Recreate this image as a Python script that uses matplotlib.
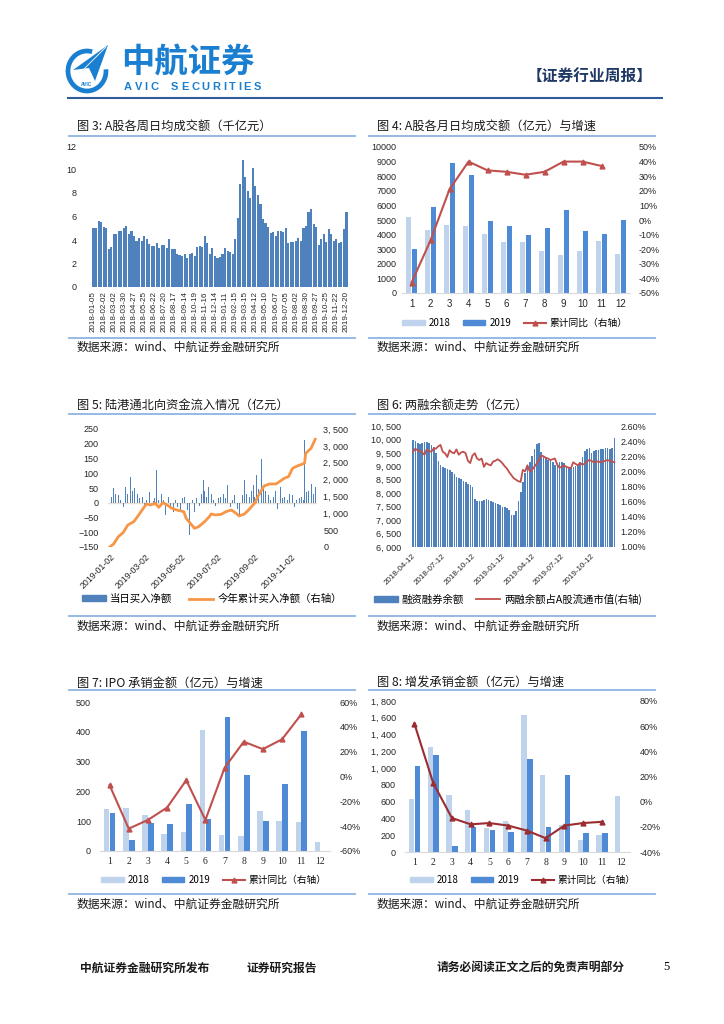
import numpy as np
import pandas as pd
import matplotlib
matplotlib.use("Agg")
import matplotlib.pyplot as plt
from matplotlib.patches import Arc, Polygon, Patch
from matplotlib.lines import Line2D
from matplotlib.ticker import FuncFormatter

plt.rcParams['font.family'] = ['Liberation Sans', 'Noto Sans CJK SC']
CJK = ['Noto Sans CJK SC', 'DejaVu Sans']

# ---------------- 数据 ----------------
# 图3 A股各周日均成交额(千亿元)
week_labels = ['2018-01-05', '2018-02-02', '2018-03-02', '2018-03-30', '2018-04-27', '2018-05-25',
               '2018-06-22', '2018-07-20', '2018-08-17', '2018-09-14', '2018-10-19', '2018-11-16',
               '2018-12-14', '2019-01-11', '2019-02-15', '2019-03-15', '2019-04-12', '2019-05-10',
               '2019-06-07', '2019-07-05', '2019-08-02', '2019-08-30', '2019-09-27', '2019-10-25',
               '2019-11-22', '2019-12-20']
week_turnover = [5.0, 5.05, 5.6, 5.5, 5.1, 5.0, 3.2, 3.4, 4.5, 4.5, 4.8, 4.75,
                 5.05, 5.15, 4.55, 4.75, 4.3, 3.9, 4.2, 3.9, 4.3, 4.1, 3.7, 3.45,
                 3.45, 3.75, 3.35, 3.55, 3.6, 3.35, 4.05, 3.25, 3.2, 2.85, 2.7, 2.6,
                 2.85, 2.5, 2.8, 2.9, 2.6, 3.4, 3.5, 3.4, 4.3, 3.75, 2.8,
                 3.35, 2.6, 2.45, 2.55, 2.8, 3.35, 3.1, 3.0, 2.85,
                 4.05, 5.85, 8.75, 10.8, 9.4, 8.2, 7.55, 10.1, 8.6, 7.8, 7.1, 5.8,
                 5.45, 5.1, 4.6, 4.65, 4.3, 4.75, 4.8, 4.65, 5.0, 3.75, 3.8, 3.85,
                 3.9, 4.2, 3.9, 5.0, 5.2, 6.4, 6.6, 5.4, 5.1, 3.6, 4.1, 4.5,
                 3.8, 4.9, 4.55, 3.9, 4.1, 3.75, 3.85, 4.9, 6.4]

# 图4 A股各月日均成交额(亿元)
months = list(range(1, 13))
turnover_2018 = [5200, 4300, 4650, 4580, 4050, 3480, 3520, 2850, 2600, 2900, 3550, 2650]
turnover_2019 = [2980, 5900, 8880, 8050, 4900, 4600, 3950, 4480, 5680, 4250, 4050, 5000]
turnover_yoy = [-43, -14, 21, 40, 34, 33, 31, 33, 40, 40, 37]

# 图5 陆港通北向资金(亿元)
north_daily = [15, 20, 49, 30, 82, 25, 10, 35, -15, 54, 30,
               20, 86, 40, 49, 25, 30, 15, 37, 20, -8,
               10, 25, 37, -10, 5, 15, 111, 10, -110, 30, 10, -42, 15,
               20, -20, 43, -30, 10, -15, 5, -25, 15, 20, 10,
               -25, -110, -40, 10, -30, 15, 20, -10, 30, 77,
               40, 20, 54, 15, 30, 10, -10, 25, 15, 20,
               10, 30, 15, 60, 20, -15, 10, 25, -64, -20,
               -42, -20, 25, 77, 30, 111, 20, 40, 60, 20,
               94, 45, 30, 147, 60, 40, 15, 25, 10, -10,
               20, 40, -20, 30, 54, 15, 20, 45, 10, 30,
               40, 25, -15, 10, 30, 15, 20, 10, 212, 35,
               40, 25, 65, 30, 55]
north_cum_dates = ['2019-01-02', '2019-01-08', '2019-01-16', '2019-01-24', '2019-02-01', '2019-02-11',
                   '2019-02-18', '2019-02-25', '2019-03-04', '2019-03-11', '2019-03-19', '2019-03-25',
                   '2019-04-01', '2019-04-08', '2019-04-16', '2019-04-24', '2019-05-06', '2019-05-10',
                   '2019-05-17', '2019-05-24', '2019-05-31', '2019-06-10', '2019-06-18', '2019-06-21',
                   '2019-06-28', '2019-07-08', '2019-07-16', '2019-07-25', '2019-08-02', '2019-08-07',
                   '2019-08-16', '2019-08-23', '2019-09-02', '2019-09-10', '2019-09-18', '2019-09-27',
                   '2019-10-08', '2019-10-14', '2019-10-22', '2019-10-29', '2019-11-05', '2019-11-13',
                   '2019-11-25', '2019-11-27', '2019-12-06', '2019-12-13']
north_cum = [10, 89, 307, 425, 653, 752, 920, 1098, 1276, 1246, 1296, 1177,
             1315, 1246, 1147, 1098, 1048, 850, 702, 554, 603, 752, 900, 980,
             950, 970, 1048, 1098, 1000, 920, 980, 1098, 1296, 1573, 1810, 1870,
             1870, 1939, 2038, 2087, 2335, 2404, 2483, 2780, 2928, 3195]
north_ticks = ['2019-01-02', '2019-03-02', '2019-05-02', '2019-07-02', '2019-09-02', '2019-11-02']

# 图6 两融余额(亿元, 周) 与占A股流通市值(%)
margin_start = '2018-04-12'
margin_balance = [9980, 9930, 9880, 9840, 9870, 9900, 9920, 9860, 9800, 9720,
                  9480, 9200, 9050, 8990, 8940, 8890, 8850, 8780, 8700, 8610,
                  8560, 8520, 8450, 8400, 8340, 8300, 8250, 7800, 7720, 7710,
                  7710, 7730, 7770, 7760, 7710, 7690, 7650, 7600, 7550, 7500,
                  7470, 7460, 7380, 7200, 7200, 7350, 7700, 8050, 8400, 8750,
                  8980, 9150, 9400, 9650, 9820, 9850, 9520, 9400, 9300, 9230,
                  9230, 9150, 9060, 9110, 9170, 9150, 9120, 9000, 8980, 8960,
                  8990, 9020, 9060, 9150, 9350, 9560, 9660, 9700, 9480, 9560,
                  9600, 9620, 9630, 9660, 9680, 9670, 9650, 9700, 10050]
margin_ratio = [2.26, 2.30, 2.28, 2.27, 2.25, 2.22, 2.29, 2.27, 2.26, 2.30,
                2.30, 2.33, 2.35, 2.26, 2.24, 2.19, 2.28, 2.25, 2.24, 2.29,
                2.22, 2.25, 2.26, 2.24, 2.14, 2.11, 2.21, 2.24, 2.17, 2.15,
                2.17, 2.06, 2.11, 2.09, 2.08, 2.13, 2.14, 2.16, 2.14, 2.11,
                2.07, 2.04, 1.99, 1.95, 1.91, 1.89, 1.87, 1.86, 2.02, 2.00,
                2.08, 2.00, 2.02, 2.06, 2.10, 2.15, 2.21, 2.20, 2.18, 2.17,
                2.15, 2.16, 2.17, 2.09, 2.05, 2.06, 2.08, 2.06, 2.05, 2.04,
                2.12, 2.10, 2.08, 2.11, 2.09, 2.10, 2.13, 2.15, 2.14, 2.12,
                2.13, 2.13, 2.12, 2.13, 2.14, 2.15, 2.14, 2.13, 2.12]
margin_ticks = ['2018-04-12', '2018-07-12', '2018-10-12', '2019-01-12', '2019-04-12', '2019-07-12', '2019-10-12']

# 图7 IPO 承销金额(亿元)
ipo_2018 = [140, 145, 120, 58, 64, 406, 54, 49, 134, 101, 98, 31]
ipo_2019 = [128, 37, 95, 89, 157, 107, 448, 254, 102, 226, 404]
ipo_yoy = [-7, -42, -35, -25, -3, -35, 7, 28, 22, 30, 50]

# 图8 增发承销金额(亿元)
seo_2018 = [635, 1257, 682, 505, 285, 365, 1635, 920, 318, 140, 207, 665]
seo_2019 = [1027, 1152, 75, 293, 265, 235, 1107, 298, 913, 230, 230]
seo_yoy = [62, 15, -13, -18, -17, -19, -23, -29, -19, -17, -16]

# ---------------- 画布 ----------------
W, H = 724, 1024
fig = plt.figure(figsize=(W / 100, H / 100), dpi=100)
bg = fig.add_axes([0, 0, 1, 1])
bg.set_xlim(0, W)
bg.set_ylim(H, 0)
bg.axis('off')

BLUE_HEAD = '#1a7fd0'
FRAME = '#8eb4e3'
C18 = '#c0d3ec'
C19 = '#4e8ad6'


def add_box(l, t, r, b):
    return fig.add_axes([l / W, 1 - b / H, (r - l) / W, (b - t) / H])


def strip(ax, bottom=False):
    for side in ['top', 'right', 'left', 'bottom']:
        ax.spines[side].set_visible(False)
    if bottom:
        ax.spines['bottom'].set_visible(True)
        ax.spines['bottom'].set_color('#d9d9d9')
    ax.tick_params(length=0, labelsize=6.5, labelcolor='#262626')
    ax.patch.set_alpha(0)


def frame(x0, x1, title, y_title, y_line, y_bottom, y_src):
    bg.text(x0 + 8, y_title, title, family=CJK, fontsize=8.8, va='center', color='#1a1a1a')
    bg.plot([x0, x1], [y_line, y_line], color=FRAME, lw=1.3)
    bg.plot([x0, x1], [y_bottom, y_bottom], color=FRAME, lw=1.3)
    bg.text(x0 + 8, y_src, '数据来源：wind、中航证券金融研究所', family=CJK, fontsize=8.5,
            va='center', color='#1a1a1a')


def legend(handles, labels, cx, cy, size=7, colsp=1.3):
    fig.legend(handles, labels, loc='center', bbox_to_anchor=(cx / W, 1 - cy / H), ncol=len(labels),
               frameon=False, prop={'family': CJK, 'size': size}, handlelength=2.3, handleheight=0.5,
               handletextpad=0.4, columnspacing=colsp, numpoints=1)


comma_fmt = FuncFormatter(lambda v, p: f'{int(round(v)):,}'.replace(',', ', '))
pct_fmt = FuncFormatter(lambda v, p: f'{v:.0f}%')

# ---------------- 页眉 ----------------
bg.add_patch(Arc((87, 71), 38, 40, theta1=-5, theta2=285, color=BLUE_HEAD, lw=3.4))
bg.add_patch(Polygon([(108, 45), (73, 70), (89, 68), (95, 81)], closed=True, color=BLUE_HEAD, lw=0))
bg.plot([106, 84], [47, 69], color='white', lw=0.6)
bg.text(87, 84, 'AVIC', fontsize=3.5, weight='bold', color=BLUE_HEAD, ha='center', va='center')
bg.text(121, 63, '中航证券', family=CJK, fontsize=24, weight='bold', color=BLUE_HEAD, va='center')
# 字母间距加宽的英文名
renderer = fig.canvas.get_renderer()
xpos = 124.0
for ch in 'AVIC  SECURITIES':
    t = bg.text(xpos, 87, ch, fontsize=8, weight='bold', color=BLUE_HEAD, va='center')
    wpx = t.get_window_extent(renderer).width if ch != ' ' else 2.5
    xpos += wpx + 2.6
bg.text(653, 77, '【证券行业周报】', family=CJK, fontsize=11.3, weight='bold', color='#1f3864',
        ha='right', va='center')
bg.plot([68, 662], [98, 98], color='#2e5c9a', lw=1.5)

# ---------------- 页脚 ----------------
for xx, txt in [(80, '中航证券金融研究所发布'), (247, '证券研究报告'), (437, '请务必阅读正文之后的免责声明部分')]:
    bg.text(xx, 968, txt, family=CJK, fontsize=8.5, weight='bold', va='center', color='#1a1a1a')
bg.text(663, 967, '5', family='Liberation Serif', fontsize=9, va='center')

# ---------------- 图3 ----------------
frame(69, 355, '图 3: A股各周日均成交额（千亿元）', 126, 136, 338, 347)
ax = add_box(92, 146, 348, 287)
strip(ax)
x = np.arange(len(week_turnover))
ax.bar(x, week_turnover, width=0.85, color='#4f81bd')
ax.set_xlim(-0.6, len(x) - 0.4)
ax.set_ylim(0, 12)
ax.set_yticks(range(0, 13, 2))
ax.set_xticks(x[::4])
ax.set_xticklabels(week_labels, rotation=90, fontsize=5.8)
ax.tick_params(axis='y', pad=11)
ax.tick_params(axis='x', pad=3)


# ---------------- 月度柱线图 ----------------
def month_chart(box, v18, v19, yoy, ylim, ystep, y2lim, y2step, lcolor, lpad, rpad, xfont, lfmt=None):
    ax = add_box(*box)
    strip(ax, bottom=True)
    xm = np.array(months)
    ax.bar(xm - 0.155, v18, width=0.29, color=C18)
    ax.bar(xm[:len(v19)] + 0.155, v19, width=0.29, color=C19)
    ax.set_xlim(0.5, 12.5)
    ax.set_ylim(*ylim)
    ax.set_yticks(np.arange(ylim[0], ylim[1] + 1, ystep))
    if lfmt is not None:
        ax.yaxis.set_major_formatter(lfmt)
    ax.set_xticks(xm)
    ax.set_xticklabels([str(m) for m in months], family=xfont, fontsize=7)
    ax.tick_params(axis='y', pad=lpad)
    ax.tick_params(axis='x', pad=4)
    ax2 = ax.twinx()
    strip(ax2)
    ax2.plot(xm[:len(yoy)], yoy, color=lcolor, lw=1.5, marker='^', ms=3.5)
    ax2.set_ylim(*y2lim)
    ax2.set_yticks(np.arange(y2lim[0], y2lim[1] + 1, y2step))
    ax2.yaxis.set_major_formatter(pct_fmt)
    ax2.tick_params(axis='y', pad=rpad)
    return [Patch(color=C18), Patch(color=C19),
            Line2D([], [], color=lcolor, lw=1.5, marker='^', ms=3.5)]


# 图4
frame(369, 655, '图 4: A股各月日均成交额（亿元）与增速', 126, 136, 338, 347)
h = month_chart((402, 147, 630, 293), turnover_2018, turnover_2019, turnover_yoy,
                (0, 10000), 1000, (-50, 50), 10, '#c0504d', 4, 6.5, 'Liberation Sans')
legend(h, ['2018', '2019', '累计同比（右轴）'], 515, 323)

# ---------------- 图5 ----------------
frame(69, 355, '图 5: 陆港通北向资金流入情况（亿元）', 405, 414, 616, 626)
ax = add_box(108, 429, 317, 547)
strip(ax)
bar_dates = pd.date_range('2019-01-02', '2019-12-13', periods=len(north_daily))
ax.axhline(0, color='#e8dfcf', lw=1.0, zorder=1)
ax.bar(bar_dates, north_daily, width=1.3, color='#4f81bd', zorder=2)
ax.set_ylim(-150, 250)
ax.set_yticks(range(-150, 251, 50))
ax.set_xlim(pd.Timestamp('2018-12-29 14:00'), pd.Timestamp('2019-12-16'))
nt = pd.to_datetime(north_ticks)
ax.set_xticks(nt)
ax.set_xticklabels(north_ticks, rotation=45, ha='right', rotation_mode='anchor', fontsize=6.3)
ax.tick_params(axis='y', pad=7)
ax.tick_params(axis='x', pad=4)
ax2 = ax.twinx()
strip(ax2)
ax2.plot(pd.to_datetime(north_cum_dates), north_cum, color='#f79646', lw=2.0)
ax2.set_ylim(0, 3500)
ax2.set_yticks(range(0, 3501, 500))
ax2.yaxis.set_major_formatter(comma_fmt)
ax2.tick_params(axis='y', pad=4.5)
legend([Patch(color='#4f81bd'), Line2D([], [], color='#f79646', lw=2)],
       ['当日买入净额', '今年累计买入净额（右轴）'], 212, 599, size=7.5, colsp=1.6)

# ---------------- 图6 ----------------
frame(369, 655, '图 6: 两融余额走势（亿元）', 405, 414, 616, 626)
ax = add_box(412, 426, 617, 547)
strip(ax)
wk = pd.date_range(margin_start, periods=len(margin_balance), freq='7D')
ax.bar(wk, margin_balance, width=5, align='edge', color='#4f81bd')
ax.set_ylim(6000, 10500)
ax.set_yticks(range(6000, 10501, 500))
ax.yaxis.set_major_formatter(comma_fmt)
ax.set_xlim(pd.Timestamp('2018-04-11'), pd.Timestamp('2019-12-29'))
mt = pd.to_datetime(margin_ticks)
ax.set_xticks(mt)
ax.set_xticklabels(margin_ticks, rotation=45, ha='right', rotation_mode='anchor', fontsize=5.8)
ax.tick_params(axis='y', pad=8)
ax.tick_params(axis='x', pad=4)
ax2 = ax.twinx()
strip(ax2)
wk2 = pd.date_range(margin_start, periods=len(margin_ratio), freq='7D') + pd.Timedelta(days=2)
ax2.plot(wk2, margin_ratio, color='#c0504d', lw=1.3)
ax2.set_ylim(1.0, 2.6)
ax2.set_yticks(np.arange(1.0, 2.61, 0.2))
ax2.yaxis.set_major_formatter(FuncFormatter(lambda v, p: f'{v:.2f}%'))
ax2.tick_params(axis='y', pad=2.5)
legend([Patch(color='#4f81bd'), Line2D([], [], color='#c0504d', lw=1.3)],
       ['融资融券余额', '两融余额占A股流通市值(右轴)'], 508, 599, size=7.5, colsp=1.2)

# ---------------- 图7 ----------------
frame(69, 355, '图 7: IPO 承销金额（亿元）与增速', 683, 690, 894, 904)
h = month_chart((100, 702, 330, 851), ipo_2018, ipo_2019, ipo_yoy,
                (0, 500), 100, (-60, 60), 20, '#c0504d', 6.5, 7, 'Liberation Serif')
legend(h, ['2018', '2019', '累计同比（右轴）'], 214, 880)

# ---------------- 图8 ----------------
frame(369, 655, '图 8: 增发承销金额（亿元）与增速', 683, 690, 894, 904)
h = month_chart((405, 701, 630, 852), seo_2018, seo_2019, seo_yoy,
                (0, 1800), 200, (-40, 80), 20, '#9b2d30', 6.5, 7, 'Liberation Serif', comma_fmt)
legend(h, ['2018', '2019', '累计同比（右轴）'], 523, 880)

fig.savefig('out.png', dpi=100)
